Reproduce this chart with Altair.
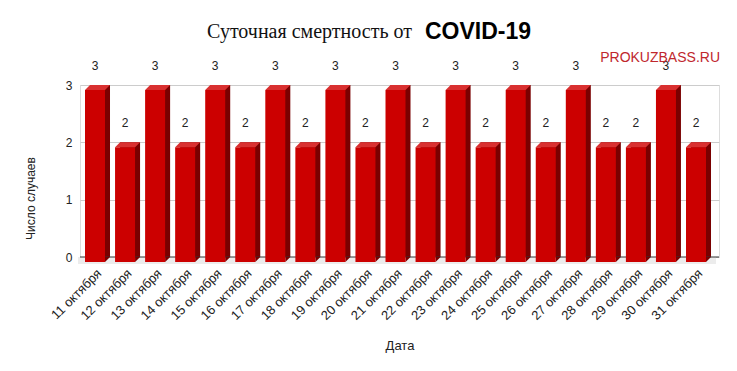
import altair as alt
import pandas as pd

dates = [f"{d} октября" for d in range(11, 32)]
deaths = [3, 2, 3, 2, 3, 2, 3, 2, 3, 2, 3, 2, 3, 2, 3, 2, 3, 2, 2, 3, 2]

df = pd.DataFrame({"date": dates, "value": deaths})

W, H = 639, 172
FONT = "Liberation Sans"

xenc = alt.X(
    "date:N",
    sort=dates,
    scale=alt.Scale(paddingInner=0.168, paddingOuter=0.2163, align=0.385),
    axis=alt.Axis(
        title="Дата",
        labelAngle=-45,
        labelAlign="right",
        labelBaseline="middle",
        labelPadding=14,
        labelOffset=2,
        labelFontSize=13,
        labelFont=FONT,
        labelColor="#222222",
        ticks=False,
        domain=False,
        titleFont=FONT,
        titleFontSize=13,
        titleFontWeight="normal",
        titleColor="#222222",
        titleY=88,
        titleBaseline="middle",
        labelOverlap=False,
    ),
)
yscale = alt.Scale(domain=[0, 3], nice=False)
yenc = alt.Y(
    "value:Q",
    scale=yscale,
    axis=alt.Axis(
        title="Число случаев",
        values=[0, 1, 2, 3],
        format="d",
        ticks=False,
        domain=False,
        labelPadding=8,
        labelFontSize=12,
        labelFont=FONT,
        labelColor="#222222",
        gridColor="#cccccc",
        gridWidth=1,
        titleFont=FONT,
        titleFontSize=12,
        titleFontWeight="normal",
        titleColor="#222222",
        titleX=-50,
        titleY=113,
        titleAlign="center",
        titleBaseline="middle",
        titleAngle=-90,
    ),
)

base = alt.Chart(df)

floor = alt.Chart(alt.Data(values=[{}])).mark_rect(color="#ececec").encode(
    x=alt.value(-2), x2=alt.value(636), y=alt.value(H), y2=alt.value(H + 7)
)

zero = alt.Chart(alt.Data(values=[{"z": 0}])).mark_rule(color="#333333", strokeWidth=1).encode(
    y=alt.Y("z:Q", scale=yscale)
)

back = base.mark_bar(size=20, xOffset=2.5, color="#7a0000").encode(x=xenc, y=yenc)

bottom_tri = base.mark_point(
    shape="M 0.6 0 L 1 0 L 0.6 0.4 Z", size=625, filled=True, opacity=1,
    color="#7a0000", strokeWidth=0
).encode(x=alt.X("date:N", sort=dates), y=alt.datum(0))

front = base.mark_bar(size=20, xOffset=-2.5, yOffset=5, color="#cc0000").encode(
    x=alt.X("date:N", sort=dates), y=alt.Y("value:Q", scale=yscale)
)

cap = base.mark_point(
    shape="M -1 0.2 L 0.6 0.2 L 1 -0.2 L -0.6 -0.2 Z", size=625, filled=True,
    opacity=1, color="#d93030", strokeWidth=0, yOffset=2.5
).encode(x=alt.X("date:N", sort=dates), y=alt.Y("value:Q", scale=yscale))

labels = base.mark_text(
    font=FONT, fontSize=12, color="#222222", dy=-19, xOffset=-2.5, baseline="middle"
).encode(x=alt.X("date:N", sort=dates), y=alt.Y("value:Q", scale=yscale), text="value:Q")

one = alt.Data(values=[{}])
title1 = alt.Chart(one).mark_text(
    text="Суточная смертность от", font="Liberation Serif", fontSize=20,
    align="right", baseline="middle", color="#111111"
).encode(x=alt.value(332), y=alt.value(-53))
title2 = alt.Chart(one).mark_text(
    text="COVID-19", font=FONT, fontSize=23, fontWeight="bold",
    align="left", baseline="middle", color="#000000"
).encode(x=alt.value(345), y=alt.value(-53))
brand = alt.Chart(one).mark_text(
    text="PROKUZBASS.RU", font=FONT, fontSize=14,
    align="right", baseline="middle", color="#c0272d"
).encode(x=alt.value(640), y=alt.value(-27))

chart = alt.layer(
    floor, back, zero, bottom_tri, front, cap, labels, title1, title2, brand
).properties(
    width=W, height=H,
    autosize=alt.AutoSizeParams(type="none"),
    padding={"left": 72, "top": 77, "right": 10, "bottom": 98},
).configure_view(stroke=None).configure(background="white")

chart.save("out.html", embed_options={"renderer": "svg", "actions": False})
